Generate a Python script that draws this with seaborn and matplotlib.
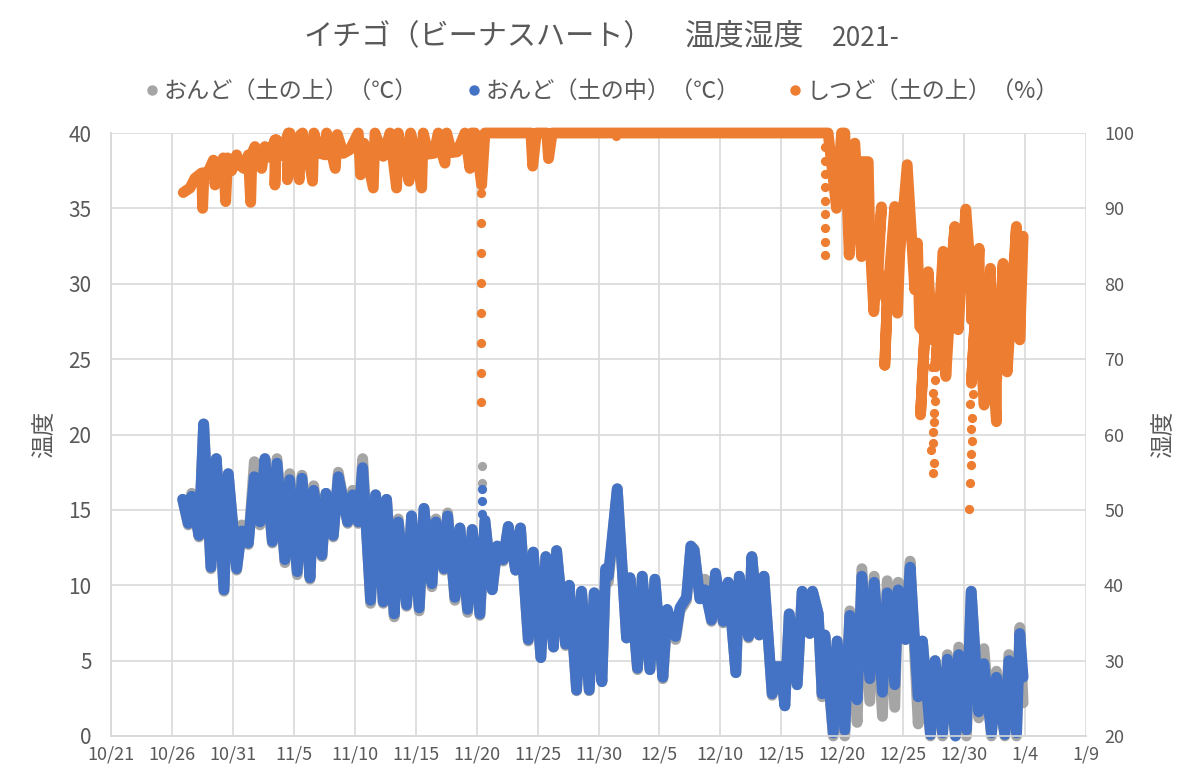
import matplotlib
matplotlib.use('Agg')
import matplotlib.pyplot as plt
from matplotlib.lines import Line2D
import seaborn as sns

# x = days since 10/21
tick_labels = ['10/21', '10/26', '10/31', '11/5', '11/10', '11/15', '11/20', '11/25', '11/30',
               '12/5', '12/10', '12/15', '12/20', '12/25', '12/30', '1/4', '1/9']

temp_days = [5.88, 6.34, 6.62, 7.22, 7.60, 8.20, 8.64, 9.27, 9.62, 10.31,
             10.72, 11.27, 11.76, 12.22, 12.63, 13.24, 13.62, 14.27, 14.66, 15.28,
             15.67, 16.33, 16.63, 17.31, 17.64, 18.24, 18.65, 19.42, 19.83, 20.29,
             20.65, 21.30, 21.71, 22.34, 22.61, 23.24, 23.57, 24.25, 24.66, 25.29,
             25.68, 26.33, 26.66, 27.32, 27.62, 28.22, 28.63, 29.26, 29.64, 30.27,
             30.68, 31.28, 31.69, 32.18, 32.60, 33.20, 33.60, 34.24, 34.65, 35.27,
             35.68, 36.31, 36.56, 37.30, 37.60, 38.20, 38.61, 39.24, 39.65, 40.28,
             40.58, 40.80, 41.54, 42.30, 42.58, 43.20, 43.59, 44.22, 44.63, 45.28,
             45.64, 46.32, 46.68, 47.22, 47.58, 47.85, 48.32, 48.73, 49.27, 49.60,
             50.23, 50.64, 51.27, 51.55, 52.31, 52.58, 53.19, 53.57, 54.25, 54.61,
             54.94, 55.29, 55.65, 56.30, 56.71, 57.34, 57.56, 58.03, 58.35, 58.57,
             59.26, 59.58, 60.21, 60.62, 61.22, 61.61, 62.26, 62.62, 63.30, 63.69,
             64.31, 64.59, 65.19, 65.57, 66.23, 66.58, 67.24, 67.62, 68.23, 68.63,
             69.29, 69.56, 70.19, 70.58, 71.20, 71.62, 72.24, 72.65, 73.34, 73.67,
             74.30, 74.57, 74.84]

soil_in = [15.7, 14.1, 15.9, 13.3, 20.7, 11.2, 18.4, 9.7, 17.4, 11.1,
           13.6, 12.8, 17.2, 14.2, 18.4, 12.9, 18.1, 11.7, 17.0, 10.9,
           17.1, 10.5, 16.3, 12.0, 16.1, 13.3, 17.2, 14.2, 16.0, 14.2,
           17.8, 9.0, 16.0, 8.9, 15.7, 8.1, 14.2, 8.7, 14.6, 8.5,
           15.1, 10.1, 14.2, 11.1, 14.6, 9.2, 13.8, 8.4, 13.7, 8.1,
           14.3, 9.7, 12.6, 11.7, 13.9, 11.0, 13.8, 6.4, 12.2, 5.2,
           11.9, 5.9, 12.3, 6.1, 10.0, 3.05, 9.6, 3.05, 9.5, 3.6,
           11.1, 10.6, 16.4, 6.5, 10.5, 4.5, 10.6, 4.4, 10.4, 3.9,
           8.4, 6.6, 8.5, 9.2, 12.6, 12.3, 9.1, 9.7, 7.7, 10.8,
           7.6, 10.2, 4.2, 10.6, 6.6, 11.9, 6.7, 10.6, 2.8, 4.6,
           4.6, 2.0, 8.1, 3.4, 9.6, 6.8, 9.6, 8.1, 2.8, 6.7,
           0.2, 6.3, 0.4, 8.0, 2.4, 10.6, 3.8, 10.2, 2.9, 9.5,
           3.4, 9.7, 6.4, 11.2, 2.6, 6.3, 0.1, 5.0, 0.2, 5.1,
           0.0, 5.4, 0.4, 9.6, 1.6, 4.8, 0.2, 3.9, 0.1, 5.0,
           0.2, 6.8, 3.9]

soil_top = [15.7, 14.0, 16.1, 13.2, 20.7, 11.1, 18.4, 9.6, 17.4, 11.0,
            14.0, 12.7, 18.2, 14.0, 18.4, 12.8, 18.4, 11.5, 17.4, 10.7,
            17.3, 10.4, 16.6, 11.9, 16.1, 13.2, 17.5, 14.1, 16.3, 14.1,
            18.4, 8.8, 16.0, 8.8, 15.7, 7.9, 14.4, 8.6, 14.6, 8.3,
            15.1, 9.9, 14.4, 11.0, 14.8, 9.0, 13.8, 8.2, 13.7, 8.0,
            14.3, 9.7, 12.6, 11.6, 13.9, 11.0, 13.8, 6.3, 12.2, 5.2,
            11.9, 5.9, 12.3, 6.0, 10.0, 3.0, 9.6, 3.0, 9.5, 3.6,
            10.8, 10.2, 16.4, 6.5, 10.5, 4.4, 10.6, 4.4, 10.4, 3.8,
            8.0, 6.4, 8.3, 9.0, 12.6, 12.4, 9.1, 10.4, 7.6, 10.8,
            7.5, 10.2, 4.2, 10.6, 6.5, 11.9, 6.7, 10.6, 2.7, 4.6,
            4.6, 2.0, 8.1, 3.4, 9.6, 6.8, 9.6, 8.1, 2.6, 6.7,
            0.0, 6.3, 0.0, 8.3, 0.9, 11.1, 2.3, 10.6, 1.3, 10.3,
            1.9, 10.2, 6.4, 11.6, 0.8, 6.3, 0.0, 5.0, 0.0, 5.4,
            0.0, 5.9, 0.0, 9.6, 1.2, 5.8, 0.0, 4.3, 0.0, 5.4,
            0.0, 7.2, 2.2]

# separate dots at 11/20
dots_in_days = [30.43, 30.43, 30.43]
dots_in_vals = [16.4, 15.6, 14.7]
dots_top_days = [30.43, 30.43]
dots_top_vals = [17.9, 16.8]

hum_days = [5.93, 6.48, 6.89, 7.44, 7.52, 7.63, 7.99, 8.40, 8.53, 8.80,
            9.22, 9.41, 9.57, 9.90, 10.31, 10.50, 10.90, 11.27, 11.46, 11.57,
            11.81, 12.36, 12.63, 13.00, 13.45, 13.45, 13.59, 14.00, 14.55, 14.47,
            14.68, 14.96, 15.45, 15.56, 15.72, 15.92, 16.19, 16.54, 16.65, 17.15,
            17.56, 17.69, 18.10, 18.40, 18.57, 19.06, 19.61, 20.29, 20.48, 20.75,
            21.52, 21.66, 22.34, 22.89, 23.43, 23.57, 23.98, 24.45, 24.58, 25.02,
            25.49, 25.62, 26.03, 26.50, 26.85, 27.13, 27.40, 27.54, 27.95, 28.41,
            29.04, 29.45, 29.59, 29.86, 30.41, 30.68, 31.91, 34.45, 34.60, 34.90,
            35.75, 35.90, 36.20, 58.40,
            58.84, 59.53, 59.94, 60.21, 60.57, 61.03, 61.58, 61.44, 62.13, 62.26,
            62.59, 63.22, 62.95, 63.68, 63.49, 63.68, 64.31, 64.53, 64.72, 65.33,
            65.95, 66.17, 66.36, 66.77, 66.42, 67.05, 67.40, 67.87, 67.68, 68.28,
            68.50, 69.24, 68.69, 69.51, 69.51, 70.14, 70.41, 70.60, 70.60, 71.01,
            70.60, 71.23, 71.29, 71.64, 72.16, 72.24, 72.65, 72.65, 73.20, 72.93,
            73.53, 73.53, 74.29, 74.02, 74.57, 74.57, 74.84]

hum_vals = [92.1, 92.7, 94.0, 94.7, 90.0, 94.7, 94.9, 96.4, 93.1, 95.5,
            96.7, 90.9, 96.7, 95.0, 97.1, 95.8, 95.3, 97.1, 90.8, 97.3,
            98.2, 95.3, 98.2, 96.8, 99.1, 93.1, 99.1, 97.0, 100, 93.8,
            100, 97.3, 93.8, 99.8, 100, 96.4, 97.0, 93.6, 100, 97.3,
            97.1, 100, 97.3, 95.3, 99.8, 97.3, 97.8, 100, 94.45, 98.65,
            92.7, 100, 96.9, 100, 92.7, 100, 97.2, 93.6, 100, 97.2,
            92.7, 100, 97.2, 97.3, 100, 97.4, 96.0, 100, 97.4, 97.5,
            100, 95.3, 100, 100, 93.1, 100, 100, 100, 95.6, 100,
            100, 96.6, 100, 100,
            100, 90.0, 100, 100, 83.8, 98.65, 83.6, 96.2, 96.2, 86.3,
            76.3, 90.2, 81.85, 77.4, 69.2, 77.4, 90.25, 76.1, 84.05, 95.8,
            79.2, 85.4, 74.3, 73.45, 62.6, 81.6, 72.55, 73.9, 69.0, 84.3,
            67.7, 87.6, 77.0, 84.9, 73.9, 89.9, 84.05, 81.85, 75.2, 78.3,
            66.8, 84.7, 73.45, 63.9, 82.05, 71.2, 61.7, 66.8, 82.7, 70.8,
            74.3, 68.3, 87.6, 77.0, 86.3, 72.55, 86.3]

hum_dot_days = [30.35, 30.35, 30.35, 30.35, 30.35, 30.35, 30.35, 30.35, 41.4,
                58.57, 58.57, 58.57, 58.57, 58.57, 58.57, 58.57, 58.57, 58.57,
                67.40, 67.60, 67.46, 67.60, 67.54, 67.54, 67.46, 67.46, 67.32, 67.51, 67.46,
                70.74, 70.52, 70.66, 70.55, 70.66, 70.55, 70.60, 70.47, 70.38]
hum_dot_vals = [92.1, 88.1, 84.1, 80.1, 76.1, 72.2, 68.2, 64.3, 99.6,
                98.1, 96.35, 94.6, 92.8, 91.0, 89.2, 87.4, 85.6, 83.8,
                69.0, 67.2, 65.5, 64.4, 62.8, 61.6, 60.3, 58.9, 58.0, 56.2, 54.85,
                65.4, 64.05, 62.2, 60.7, 59.1, 57.4, 56.0, 53.5, 50.1]

GREY = '#A5A5A5'
BLUE = '#4472C4'
ORANGE = '#ED7D31'
TEXT = '#595959'
GRID = '#D9D9D9'

sns.set_style('whitegrid')
plt.rcParams['font.family'] = ['Noto Sans CJK JP', 'DejaVu Sans']

fig = plt.figure(figsize=(12, 7.84), dpi=100)
ax = fig.add_axes([111 / 1200, 1 - 736 / 784, 975 / 1200, 603 / 784])
ax2 = ax.twinx()

line_kw = dict(estimator=None, sort=False, linewidth=7.8, solid_capstyle='round',
               solid_joinstyle='round', clip_on=False)
dot_kw = dict(s=44, linewidth=0, clip_on=False)

sns.lineplot(x=temp_days, y=soil_top, color=GREY, ax=ax, zorder=3, **line_kw)
sns.scatterplot(x=dots_top_days, y=dots_top_vals, color=GREY, ax=ax, zorder=3, **dot_kw)
sns.lineplot(x=temp_days, y=soil_in, color=BLUE, ax=ax, zorder=4, **line_kw)
sns.scatterplot(x=dots_in_days, y=dots_in_vals, color=BLUE, ax=ax, zorder=4, **dot_kw)
sns.lineplot(x=hum_days, y=hum_vals, color=ORANGE, ax=ax2, zorder=3, **line_kw)
sns.scatterplot(x=hum_dot_days, y=hum_dot_vals, color=ORANGE, ax=ax2, zorder=3, **dot_kw)

ax.set_xlim(0, 80)
ax.set_xticks(range(0, 81, 5))
ax.set_xticklabels(tick_labels, fontsize=13, color=TEXT)
ax.set_ylim(0, 40)
ax.set_yticks(range(0, 41, 5))
ax.tick_params(axis='y', labelsize=15, labelcolor=TEXT, length=0, pad=14)
ax.tick_params(axis='x', length=0, pad=7)
ax.set_ylabel('温度', fontsize=17, color=TEXT, labelpad=9)

ax2.set_ylim(20, 100)
ax2.set_yticks(range(20, 101, 10))
ax2.tick_params(axis='y', labelsize=13, labelcolor=TEXT, length=0, pad=13)
ax2.set_ylabel('湿度', fontsize=17, color=TEXT, labelpad=13)
ax2.grid(False)

ax.grid(True, color=GRID, linewidth=1.2)
ax.set_axisbelow(True)
for a in (ax, ax2):
    for s in a.spines.values():
        s.set_color(GRID)
        s.set_linewidth(1.2)
    a.spines['top'].set_visible(False)
    a.spines['right'].set_visible(False)

fig.text(303 / 1200, 1 - 37 / 784, 'イチゴ（ビーナスハート）', fontsize=21, color=TEXT, va='center', ha='left')
fig.text(685 / 1200, 1 - 37 / 784, '温度湿度', fontsize=21.5, color=TEXT, va='center', ha='left')
fig.text(832 / 1200, 1 - 38 / 784, '2021-', fontsize=19, color=TEXT, va='center', ha='left')

handles = [Line2D([], [], linestyle='none', marker='o', markersize=6.5, color=c) for c in (GREY, BLUE, ORANGE)]
labels = ['おんど（土の上）（℃）', 'おんど（土の中）（℃）', 'しつど（土の上）（%）']
fig.legend(handles, labels, ncol=3, frameon=False, fontsize=16.7, labelcolor=TEXT,
           loc='center', bbox_to_anchor=(600 / 1200, 1 - 92 / 784),
           handletextpad=0.0, columnspacing=1.9, handlelength=1.0)

fig.savefig('out.png', dpi=100)
